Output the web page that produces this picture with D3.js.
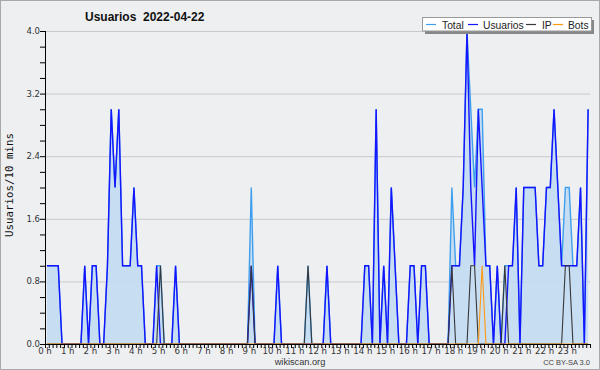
<!DOCTYPE html>
<html><head><meta charset="utf-8">
<script src="https://cdn.jsdelivr.net/npm/d3@7"></script>
<style>
html,body{margin:0;padding:0;background:#eeeff1;}
svg{display:block;}
</style></head>
<body>
<svg id="c" width="600" height="370"></svg>
<script>
const title = "Usuarios\u00a0\u00a02022-04-22";
const yTitle = "Usuarios/10 mins";
const hourLabels = ["0 h","1 h","2 h","3 h","4 h","5 h","6 h","7 h","8 h","9 h","10 h","11 h","12 h","13 h","14 h","15 h","16 h","17 h","18 h","19 h","20 h","21 h","22 h","23 h"];
const yTicks = [0, 0.8, 1.6, 2.4, 3.2, 4.0];
const seriesNames = ["Total","Usuarios","IP","Bots"];
// values per 10-minute slot (144 slots)
const usuarios = [
1,1,1,1,0,0,0,0,0,0, 1,0,1,1,0,0,1,3,2,3, 1,1,1,2,1,1,0,0,0,1,
0,0,0,0,1,0,0,0,0,0, 0,0,0,0,0,0,0,0,0,0, 0,0,0,0,1,0,0,0,0,0,
0,1,0,0,0,0,0,0,0,0, 0,0,0,0,1,0,0,0,0,0, 0,0,0,0,1,1,0,3,0,1,
0,2,1,0,0,0,1,1,0,1, 1,0,0,0,0,0,0,1,1,1, 2,4,2,1,3,2,1,1,0,1,
0,0,1,1,2,0,2,2,2,2, 1,1,2,2,3,2,1,1,1,1, 1,2,0,3];
const ip = [
0,0,0,0,0,0,0,0,0,0, 0,0,0,0,0,0,0,0,0,0, 0,0,0,0,0,0,0,0,0,0,
1,0,0,0,0,0,0,0,0,0, 0,0,0,0,0,0,0,0,0,0, 0,0,0,0,1,0,0,0,0,0,
0,0,0,0,0,0,0,0,0,1, 0,0,0,0,0,0,0,0,0,0, 0,0,0,0,0,0,0,0,0,0,
0,0,0,0,0,0,0,0,0,0, 0,0,0,0,0,0,0,1,0,0, 0,0,1,1,0,0,0,0,0,0,
0,1,0,0,0,0,0,0,0,0, 0,0,0,0,0,0,0,1,1,0, 0,0,0,0];
const bots = [
0,0,0,0,0,0,0,0,0,0, 0,0,0,0,0,0,0,0,0,0, 0,0,0,0,0,0,0,0,0,0,
0,0,0,0,0,0,0,0,0,0, 0,0,0,0,0,0,0,0,0,0, 0,0,0,0,0,0,0,0,0,0,
0,0,0,0,0,0,0,0,0,0, 0,0,0,0,0,0,0,0,0,0, 0,0,0,0,0,0,0,0,0,0,
0,0,0,0,0,0,0,0,0,0, 0,0,0,0,0,0,0,0,0,0, 0,0,0,0,0,1,0,0,0,0,
0,0,0,0,0,0,0,0,0,0, 0,0,0,0,0,0,0,0,0,0, 0,0,0,0];
const total = [
1,1,1,1,0,0,0,0,0,0, 1,0,1,1,0,0,1,3,2,3, 1,1,1,2,1,1,0,0,0,1,
1,0,0,0,1,0,0,0,0,0, 0,0,0,0,0,0,0,0,0,0, 0,0,0,0,2,0,0,0,0,0,
0,1,0,0,0,0,0,0,0,1, 0,0,0,0,1,0,0,0,0,0, 0,0,0,0,1,1,0,3,0,1,
0,2,1,0,0,0,1,1,0,1, 1,0,0,0,0,0,0,2,1,1, 2,4,3,2,3,3,1,1,0,1,
0,1,1,1,2,0,2,2,2,2, 1,1,2,2,3,2,1,2,2,1, 1,2,0,3];

const colors = {Total:"#3f9fef", Usuarios:"#1414ff", IP:"#383838", Bots:"#ff9a10"};
const svg = d3.select("#c");
const W = 600, H = 370;
const L = 45, R = 590, T = 31, B = 344;
const SANS = "Liberation Sans, Arial, sans-serif";

svg.append("rect").attr("x",0.5).attr("y",0.5).attr("width",W-1).attr("height",H-1)
  .attr("fill","#eeeff1").attr("stroke","#a8a8a8");

const x = d3.scaleLinear().domain([0,144]).range([L,R]);
const y = d3.scaleLinear().domain([0,4]).range([B,T]);

// grid
svg.append("g").selectAll("line").data(yTicks.filter(d=>d>0)).join("line")
  .attr("x1",L).attr("x2",R).attr("y1",d=>y(d)+0.5).attr("y2",d=>y(d)+0.5)
  .attr("stroke","#c9c9cb").attr("stroke-width",1);

const idx = d3.range(144);
const area = d3.area().x(i=>x(i+0.5)).y0(y(0)).y1(i=>y(total[i]));
svg.append("path").datum(idx).attr("d",area).attr("fill","#c4dbf0").attr("fill-opacity",0.95);

function drawLine(arr,color,w){
  const line = d3.line().x(i=>x(i+0.5)).y(i=>y(arr[i]));
  svg.append("path").datum(idx).attr("d",line).attr("fill","none")
    .attr("stroke",color).attr("stroke-width",w).attr("stroke-linejoin","miter");
}
drawLine(total,colors.Total,1.4);
drawLine(usuarios,colors.Usuarios,1.4);
drawLine(ip,colors.IP,1.1);
drawLine(bots,colors.Bots,1.1);

// axes
const xAxis = d3.axisBottom(x).tickValues(d3.range(0,145)).tickSize(4).tickFormat("");
const gx = svg.append("g").attr("transform",`translate(0,${B})`).call(xAxis);
gx.select(".domain").attr("stroke","#000").attr("d",`M${L},0.5H${R}`);
gx.selectAll(".tick line").attr("stroke","#000");
svg.append("g").selectAll("text").data(hourLabels).join("text")
  .attr("x",(d,i)=>x(i*6)).attr("y",353.5).attr("text-anchor","middle")
  .attr("font-family","DejaVu Sans, sans-serif").attr("font-size",8.6).attr("fill","#333").text(d=>d);

const yAxis = d3.axisLeft(y).tickValues(d3.range(0,4.01,0.2)).tickSize(5).tickFormat("");
const gy = svg.append("g").attr("transform",`translate(${L},0)`).call(yAxis);
gy.select(".domain").attr("stroke","#000").attr("d",`M0.5,${T}V${B}`);
gy.selectAll(".tick line").attr("stroke","#000");
svg.append("g").selectAll("text").data(yTicks).join("text")
  .attr("x",L-5).attr("y",d=>y(d)+3).attr("text-anchor","end")
  .attr("font-family","DejaVu Sans, sans-serif").attr("font-size",8.5).attr("fill","#333")
  .text(d=>d.toFixed(1));

// titles
svg.append("text").attr("x",85).attr("y",21).attr("font-family",SANS)
  .attr("font-weight","bold").attr("font-size",12).attr("fill","#111").text(title);
svg.append("text").attr("transform","translate(13,185) rotate(-90)").attr("text-anchor","middle")
  .attr("font-family","DejaVu Sans Mono, monospace").attr("font-size",10.8).attr("fill","#111").text(yTitle);
svg.append("text").attr("x",300).attr("y",365).attr("text-anchor","middle")
  .attr("font-family",SANS).attr("font-size",9.2).attr("fill","#333").text("wikiscan.org");
svg.append("text").attr("x",590).attr("y",365).attr("text-anchor","end")
  .attr("font-family",SANS).attr("font-size",7.5).attr("fill","#444").text("CC BY-SA 3.0");

// legend
const lg = svg.append("g");
lg.append("rect").attr("x",425).attr("y",20).attr("width",169).attr("height",14).attr("fill","#888");
lg.append("rect").attr("x",422.5).attr("y",17.5).attr("width",169).attr("height",13.5).attr("fill","#fff").attr("stroke","#999");
const lx = [426,468,526,553];
const tx = [442,483,542,568];
seriesNames.forEach((n,k)=>{
  lg.append("line").attr("x1",lx[k]).attr("x2",lx[k]+10).attr("y1",24.5).attr("y2",24.5)
    .attr("stroke",colors[n]).attr("stroke-width",1.2);
  lg.append("text").attr("x",tx[k]).attr("y",28.5).attr("font-family",SANS)
    .attr("font-size",10.3).attr("fill","#222").text(n);
});
</script>
</body></html>
